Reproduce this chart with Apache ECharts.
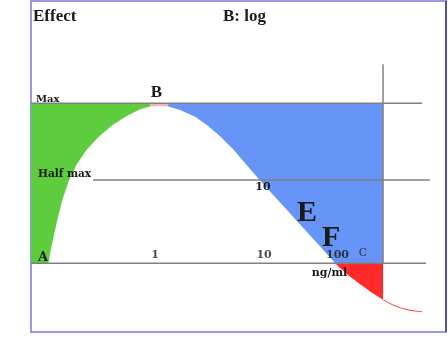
<!DOCTYPE html>
<html><head><meta charset="utf-8">
<script src="https://cdn.jsdelivr.net/npm/echarts@6/dist/echarts.min.js"></script>
<style>html,body{margin:0;padding:0;background:#fff}#c{width:448px;height:358px}</style>
</head><body><div id="c"></div>
<script>
// dose positions (log10 scale) and effect (% of max)
const riseDose   = [-0.98,-0.963,-0.936,-0.899,-0.853,-0.798,-0.725,-0.633,-0.523,-0.394,-0.266,-0.138,-0.046];
const riseEffect = [0,6.9,15.6,26.9,39.4,50.6,61.3,70.6,78.8,86.3,91.9,96.3,98.1];
const peakDose   = [-0.046,0.037,0.119];
const peakEffect = [98.1,98.4,98.1];
const fallDose   = [0.119,0.229,0.367,0.477,0.596,0.716,0.826,0.945,1.073,1.202,1.330,1.450,1.550,1.651];
const fallEffect = [98.1,95.9,91.6,86.3,79.4,71.3,62.5,53.1,43.5,33.9,24.3,15.3,7.8,0];
const belowDose  = [1.651,1.761,1.881,1.991,2.092];
const belowEffect= [0,-6.9,-13.1,-18.4,-22.8];
const tailDose   = [2.092,2.202,2.321,2.450];
const tailEffect = [-22.8,-26.6,-29.1,-30.3];
const maxEffect = 100, halfMaxEffect = 52, baseEffect = 0;
const maxLineDose = [-1.14, 2.45];
const halfLineDose = [-0.569, 2.523];
const baseLineDose = [-1.14, 2.486];
const cutDose = 2.092, cutTopEffect = 124.4;
const tickLabels = ['1','10','100'];
const tickDose = [0, 1, 1.674];

const X_MIN = -1.14, X_MAX = 2.67, Y_MIN = -43, Y_MAX = 164;
const zip = (a,b) => a.map((v,i)=>[v,b[i]]);

const regions = [
  {color:'#5dcc3d', pts: [[X_MIN,baseEffect]].concat(zip(riseDose,riseEffect), [[riseDose[riseDose.length-1],maxEffect],[X_MIN,maxEffect]])},
  {color:'#f2b6b0', pts: [[peakDose[0],maxEffect]].concat(zip(peakDose,peakEffect), [[peakDose[peakDose.length-1],maxEffect]])},
  {color:'#6794f7', pts: [[fallDose[0],maxEffect]].concat(zip(fallDose,fallEffect), [[cutDose,baseEffect],[cutDose,maxEffect]])},
  {color:'#ff2a2a', pts: zip(belowDose,belowEffect).concat([[cutDose,baseEffect]])}
];

const lineStyle = {color:'#808080', width:1.5};
const seg = (d) => ({type:'line', data:d, symbol:'none', lineStyle, silent:true, z:5, animation:false});

const chart = echarts.init(document.getElementById('c'));
const serif = 'Liberation Serif', dj = 'DejaVu Serif';
const txt = (text, x, y, font, size, extra) => Object.assign({
  type:'text', x, y, z:20,
  style: Object.assign({text, fontFamily:font, fontWeight:'bold', fontSize:size, fill:'#1a1a1a', verticalAlign:'middle', align:'left'}, extra||{})
});

chart.setOption({
  animation:false,
  grid:{left:31, top:1, width:415, height:331, show:true, borderColor:'#9a98e6', borderWidth:2, backgroundColor:'#fff'},
  xAxis:{type:'value', min:X_MIN, max:X_MAX, show:false},
  yAxis:{type:'value', min:Y_MIN, max:Y_MAX, show:false},
  series:[
    {type:'custom', data:[[0,0]], z:2, silent:true,
     renderItem:(params, api) => ({type:'group', children: regions.map(r => ({
       type:'polygon', shape:{points: r.pts.map(p => api.coord(p))}, style:{fill:r.color, stroke:null}
     }))})},
    {type:'line', data: zip(tailDose, tailEffect), symbol:'none', smooth:true, lineStyle:{color:'#f03c3c', width:1}, z:4, silent:true},
    seg([[maxLineDose[0],maxEffect],[maxLineDose[1],maxEffect]]),
    seg([[halfLineDose[0],halfMaxEffect],[halfLineDose[1],halfMaxEffect]]),
    seg([[baseLineDose[0],baseEffect],[baseLineDose[1],baseEffect]]),
    seg([[cutDose,cutTopEffect],[cutDose,baseEffect]]),
    {type:'scatter', symbolSize:0, z:10, silent:true,
     data: tickDose.map((d,i)=>[d, baseEffect, tickLabels[i]]),
     label:{show:true, position:'inside', offset:[0,-8], formatter:p=>p.data[2],
            fontFamily:dj, fontWeight:'bold', fontSize:11, color:'#1a1a1a'}}
  ],
  graphic:[
    {type:'line', z:20, shape:{x1:446, y1:1, x2:446, y2:332}, style:{stroke:'#3a3a90', lineWidth:1.5}},
    txt('Effect', 33, 16.5, serif, 17),
    txt('B: log', 223, 16.5, serif, 17),
    txt('Max', 36, 99, dj, 10),
    txt('B', 156.5, 92.5, serif, 17, {align:'center'}),
    txt('Half max', 38, 174, dj, 10.5),
    txt('A', 38, 258, dj, 13),
    txt('10', 263, 187.5, dj, 11, {align:'center'}),
    txt('E', 297, 213.5, serif, 30),
    txt('F', 322, 238, serif, 30),
    txt('C', 363, 253.5, dj, 11, {align:'center', fontWeight:'normal', fill:'#333'}),
    txt('ng/ml', 329.5, 273, dj, 11, {align:'center'})
  ]
});
</script></body></html>
